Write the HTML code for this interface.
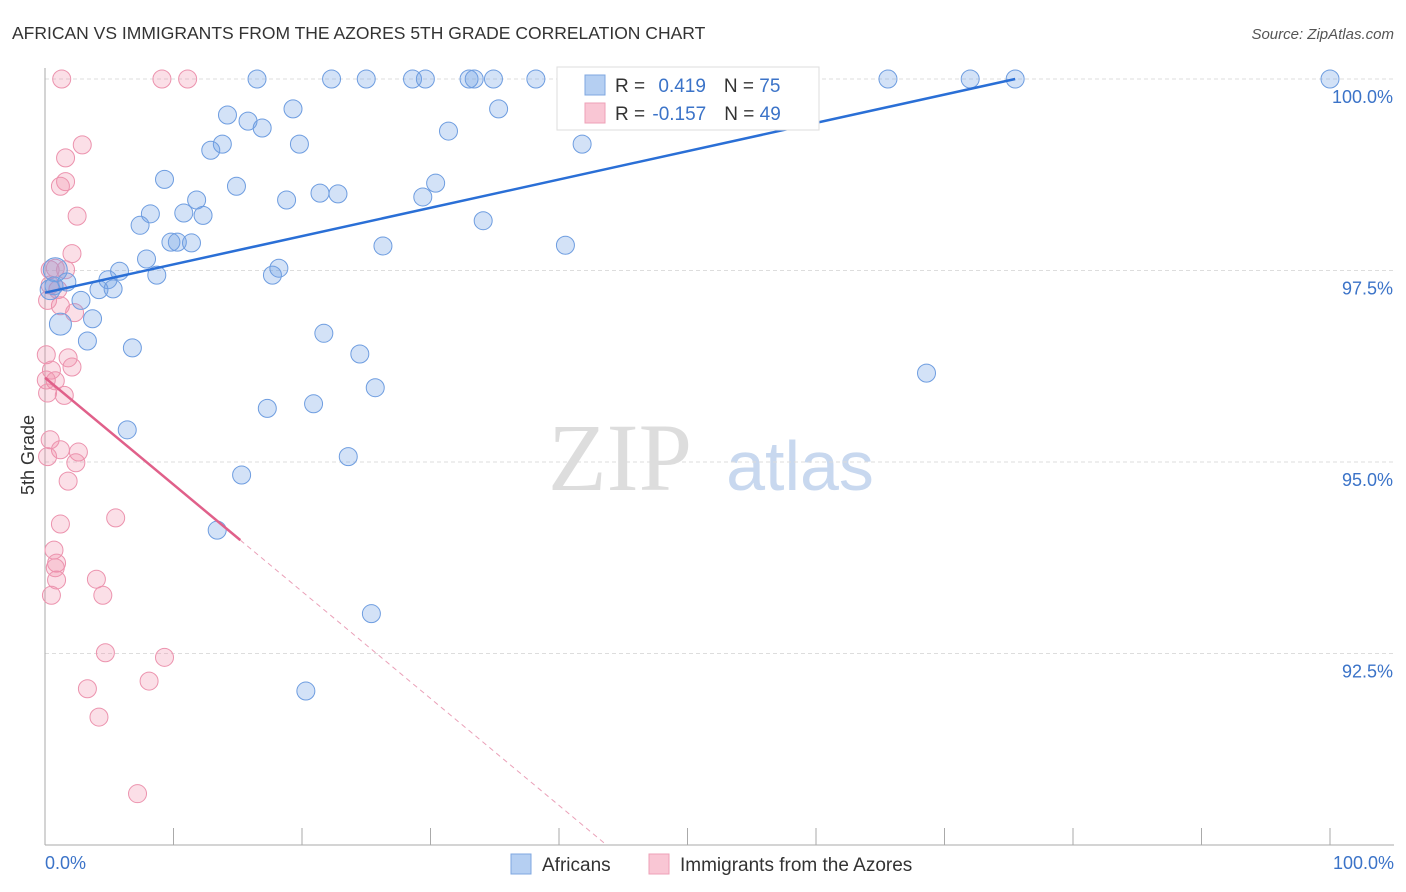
<!DOCTYPE html>
<html><head><meta charset="utf-8"><style>
body{margin:0;background:#fff;font-family:"Liberation Sans",sans-serif}
#c{position:absolute;left:0;top:0}
</style></head><body>
<svg id="c" width="1406" height="892" xmlns="http://www.w3.org/2000/svg">
<text x="12" y="39" font-size="17.5" fill="#333">AFRICAN VS IMMIGRANTS FROM THE AZORES 5TH GRADE CORRELATION CHART</text>
<text x="1394" y="39" font-size="15" fill="#555" font-style="italic" text-anchor="end">Source: ZipAtlas.com</text>
<text x="620" y="490" font-size="96" fill="#ddd" font-family="Liberation Serif" text-anchor="middle">ZIP</text>
<text x="800" y="490" font-size="70" fill="#c8d8ef" text-anchor="middle">atlas</text>
<g id="grid"></g>
<g id="axes"></g>
<g id="pts"></g>
<g id="lines"></g>
<text transform="translate(34,455) rotate(-90)" font-size="18" fill="#333" text-anchor="middle">5th Grade</text>
<text x="45" y="869" font-size="18" fill="#3b73c8">0.0%</text>
<text x="1394" y="869" font-size="18" fill="#3b73c8" text-anchor="end">100.0%</text>
<g>
<rect x="557" y="67" width="262" height="63" fill="#fff" stroke="#ddd"/>
<rect x="585" y="75" width="20" height="20" fill="#b5cff2" stroke="#7fa7e0"/>
<rect x="585" y="103" width="20" height="20" fill="#f9c6d4" stroke="#eea0b7"/>
<text x="615" y="92" font-size="19" fill="#333">R = <tspan fill="#3b73c8" dx="8">0.419</tspan><tspan dx="18" fill="#333">N = </tspan><tspan fill="#3b73c8">75</tspan></text>
<text x="615" y="120" font-size="19" fill="#333">R = <tspan fill="#3b73c8" dx="2">-0.157</tspan><tspan dx="18" fill="#333">N = </tspan><tspan fill="#3b73c8">49</tspan></text>
</g>
<g>
<rect x="511" y="854" width="20" height="20" fill="#b5cff2" stroke="#7fa7e0"/>
<text x="542" y="871" font-size="19" fill="#333">Africans</text>
<rect x="649" y="854" width="20" height="20" fill="#f9c6d4" stroke="#eea0b7"/>
<text x="680" y="871" font-size="19" fill="#333">Immigrants from the Azores</text>
</g>
</svg>
<script>
const yTicks=[100,97.5,95,92.5];
const yTickLabels=["100.0%","97.5%","95.0%","92.5%"];
const xTicks=[0,10,20,30,40,50,60,70,80,90,100];
const blueX=[16.5,22.3,25.0,28.6,29.6,33.0,33.4,34.9,38.2,43.3,52.4,55.5,59.1,65.6,72.0,75.5,100,35.3,19.3,14.2,15.8,16.9,31.4,13.8,12.9,19.8,41.8,9.3,14.9,30.4,11.8,18.8,21.4,22.8,29.4,8.2,10.8,12.3,7.4,34.1,9.8,10.3,11.4,26.3,40.5,7.9,18.2,17.7,8.7,5.8,4.9,1.7,0.7,4.2,5.3,2.8,3.7,1.2,3.3,6.8,21.7,24.5,25.7,68.6,17.3,20.9,6.4,23.6,15.3,13.4,25.4,20.3,0.8,0.4];
const blueY=[100,100,100,100,100,100,100,100,100,100,100,100,100,100,100,100,100,99.61,99.61,99.53,99.45,99.36,99.32,99.15,99.07,99.15,99.15,98.69,98.60,98.64,98.42,98.42,98.51,98.50,98.46,98.24,98.25,98.22,98.09,98.15,97.87,97.87,97.86,97.82,97.83,97.65,97.53,97.44,97.44,97.49,97.38,97.35,97.30,97.25,97.26,97.11,96.87,96.80,96.58,96.49,96.68,96.41,95.97,96.16,95.70,95.76,95.42,95.07,94.83,94.11,93.02,92.01,97.51,97.25];
const blueR=[9,9,9,9,9,9,9,9,9,9,9,9,9,9,9,9,9,9,9,9,9,9,9,9,9,9,9,9,9,9,9,9,9,9,9,9,9,9,9,9,9,9,9,9,9,9,9,9,9,9,9,9,9,9,9,9,9,11,9,9,9,9,9,9,9,9,9,9,9,9,9,9,12,10];
const pinkX=[1.3,9.1,11.1,2.9,1.6,1.6,1.2,2.5,2.1,0.8,1.6,0.4,1.0,1.2,2.3,0.1,1.8,2.1,0.5,0.8,0.2,1.5,0.4,1.2,2.6,2.4,0.2,1.8,5.5,1.2,0.7,0.9,0.8,0.9,4.0,0.5,4.5,4.7,9.3,3.3,8.1,4.2,7.2,0.2,0.4,0.1];
const pinkY=[100,100,100,99.14,98.97,98.66,98.60,98.21,97.72,97.53,97.51,97.51,97.25,97.04,96.95,96.40,96.36,96.24,96.20,96.06,95.90,95.87,95.29,95.16,95.13,94.99,95.07,94.75,94.27,94.19,93.85,93.68,93.62,93.46,93.47,93.26,93.26,92.51,92.45,92.04,92.14,91.67,90.67,97.11,97.31,96.07];
const blueTrend=[[0,97.21],[75.5,100]];
const pinkTrend=[[0,96.10],[15.2,93.98]];
const pinkDash=[[15.2,93.98],[43.7,90]];
const X0=45,X1=1330,Y0=79,Y1=845;
function sx(v){return X0+v/100*(X1-X0);}
function sy(v){return Y0+(100-v)/10*(Y1-Y0);}
const NS="http://www.w3.org/2000/svg";
function mk(t,a,p){const e=document.createElementNS(NS,t);for(const k in a)e.setAttribute(k,a[k]);p.appendChild(e);return e;}
const grid=document.getElementById('grid'),axes=document.getElementById('axes'),pts=document.getElementById('pts'),lines=document.getElementById('lines');
yTicks.forEach((t,i)=>{
 const l=mk('line',{x1:X0,x2:1394,y1:sy(t),y2:sy(t),stroke:'#ddd','stroke-dasharray':'4,3'},grid);
 
 
 const tx=mk('text',{x:1393,y:sy(t)+24,'font-size':18,fill:'#3b73c8','text-anchor':'end'},grid);
 tx.textContent=yTickLabels[i];
 
 
});
const ya=mk('line',{x1:X0,x2:X0,y1:68,y2:Y1,stroke:'#aaa'},axes);


const xa=mk('line',{x1:X0,x2:1394,y1:Y1,y2:Y1,stroke:'#aaa'},axes);


xTicks.forEach(t=>{
 const l=mk('line',{x1:sx(t),x2:sx(t),y1:Y1,y2:Y1-17,stroke:'#aaa'},axes);
 
 
});
pinkX.forEach((x,i)=>{
 const c=mk('circle',{cx:sx(x),cy:sy(pinkY[i]),r:9,fill:'rgba(240,140,170,0.28)',stroke:'#ec93ae','stroke-width':1},pts);
 
 
});
blueX.forEach((x,i)=>{
 const c=mk('circle',{cx:sx(x),cy:sy(blueY[i]),r:blueR[i],fill:'rgba(110,160,230,0.3)',stroke:'#6e9de0','stroke-width':1},pts);
 
 
});
const bl=mk('line',{x1:sx(blueTrend[0][0]),y1:sy(blueTrend[0][1]),x2:sx(blueTrend[1][0]),y2:sy(blueTrend[1][1]),stroke:'#2a6fd6','stroke-width':2.5},lines);


const pl=mk('line',{x1:sx(pinkTrend[0][0]),y1:sy(pinkTrend[0][1]),x2:sx(pinkTrend[1][0]),y2:sy(pinkTrend[1][1]),stroke:'#e0608a','stroke-width':2.5},lines);


const pd=mk('line',{x1:sx(pinkDash[0][0]),y1:sy(pinkDash[0][1]),x2:sx(pinkDash[1][0]),y2:sy(pinkDash[1][1]),stroke:'#eaa0b8','stroke-width':1,'stroke-dasharray':'5,4'},lines);


</script>
</body></html>
